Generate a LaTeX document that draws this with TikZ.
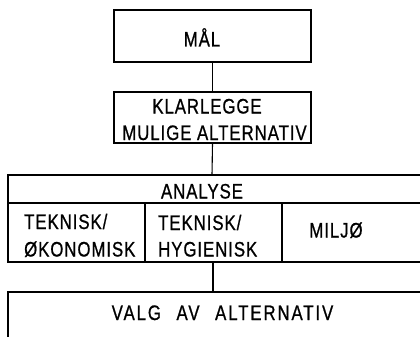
\documentclass[tikz,border=0pt]{standalone}
\usepackage{fontspec}
\setmainfont{Liberation Sans}[FakeStretch=0.8,LetterSpace=4.5,FakeBold=0.8]
\begin{document}
\begin{tikzpicture}[x=1pt,y=-1pt,
  box/.style={draw, line width=1.2pt, rectangle, inner sep=0pt},
  lbl/.style={inner sep=0pt, text height=15pt, text depth=0pt, font=\fontsize{21}{24}\selectfont},
  wide/.style={font=\fontsize{21}{24}\selectfont\addfontfeatures{LetterSpace=9}},
  conn/.style={line width=1.1pt}]
\useasboundingbox (0,0) rectangle (420,337);
% boxes
\node[box, minimum width=197pt, minimum height=52pt] (mal) at (212.5,36) {};
\node[box, minimum width=197pt, minimum height=51pt] (klar) at (212.5,117.5) {};
% text
\node[lbl] (maltxt) at (202,39) {MÅL};
\node[lbl] (klar1) at (207,106) {KLARLEGGE};
\node[lbl] (klar2) at (214.5,132.5) {MULIGE ALTERNATIV};
% analyse block (open to the right)
\coordinate (atop) at (212,175);
\coordinate (abot) at (213,262);
\draw[line width=1.2pt] (420,175) -- (8,175) -- (8,262) -- (420,262);
\draw[line width=1.2pt] (8,203) -- (420,203);
\draw[line width=1.2pt] (145,203) -- (145,262);
\draw[line width=1.2pt] (282,203) -- (282,262);
\node[lbl] (analyse) at (202,191) {ANALYSE};
\node[lbl, anchor=west] (t1a) at (24,221.5) {TEKNISK/};
\node[lbl, anchor=west] (t1b) at (24,249) {ØKONOMISK};
\node[lbl, anchor=west] (t2a) at (158,222.5) {TEKNISK/};
\node[lbl, anchor=west] (t2b) at (158,249) {HYGIENISK};
\node[lbl] (miljo) at (336,230) {MILJØ};
% valg block (open right and bottom)
\coordinate (vtop) at (213,292);
\draw[line width=1.2pt] (8,337) -- (8,292) -- (420,292);
\node[lbl, wide] (valg) at (222.5,312.5) {VALG\hspace{9pt} AV\hspace{9pt} ALTERNATIV};
% connectors
\draw[conn] (mal.south) -- (klar.north);
\draw[conn] (klar.south) -- (atop);
\draw[conn] (abot) -- (vtop);
\end{tikzpicture}
\end{document}
